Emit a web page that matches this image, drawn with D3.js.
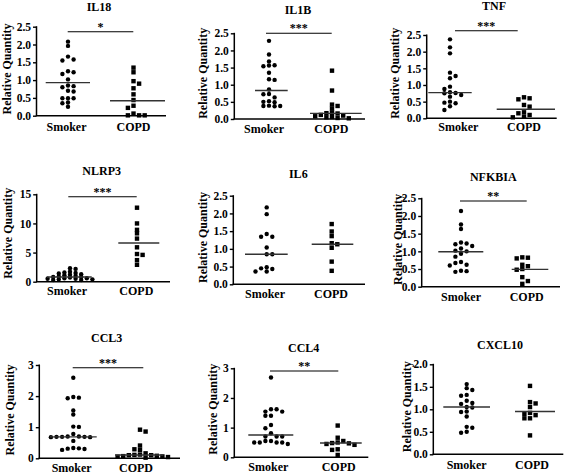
<!DOCTYPE html>
<html><head><meta charset="utf-8">
<script src="https://cdn.jsdelivr.net/npm/d3@7"></script>
<style>
body{margin:0;background:#fff}
svg{display:block}
text{font-family:"Liberation Serif","DejaVu Serif","Times New Roman",serif;font-weight:bold;fill:#000}
</style>
</head><body>
<svg id="chart" width="567" height="475"></svg>
<script>
// ---------------- DATA ----------------
const categories = ["Smoker", "COPD"];
const genes = ["IL18", "IL1B", "TNF", "NLRP3", "IL6", "NFKBIA", "CCL3", "CCL4", "CXCL10"];
const significance = ["*", "***", "***", "***", "", "**", "***", "**", ""];
const yAxisTitle = "Relative Quantity";
const yMaxima = [2.5, 2.5, 2.5, 15, 2.5, 2.5, 3, 3, 2.0];
const yTickValues = [
  [0, 0.5, 1.0, 1.5, 2.0, 2.5],
  [0, 0.5, 1.0, 1.5, 2.0, 2.5],
  [0, 0.5, 1.0, 1.5, 2.0, 2.5],
  [0, 5, 10, 15],
  [0, 0.5, 1.0, 1.5, 2.0, 2.5],
  [0, 0.5, 1.0, 1.5, 2.0, 2.5],
  [0, 1, 2, 3],
  [0, 1, 2, 3],
  [0, 0.5, 1.0, 1.5, 2.0]
];
const yTickFormats = [".1f", ".1f", ".1f", "d", ".1f", ".1f", "d", "d", ".1f"];

const il18Smoker = [2.08,1.96,1.66,1.58,1.55,1.25,1.22,1.17,1.02,0.85,0.83,0.80,0.70,0.68,0.49,0.49,0.49,0.37,0.35,0.25];
const il18COPD   = [1.35,1.22,0.97,0.90,0.77,0.60,0.44,0.28,0.22,0.06,0.01,0.01,0.01];
const il1bSmoker = [2.28,1.88,1.68,1.57,1.56,1.54,1.35,1.16,1.14,0.86,0.73,0.72,0.63,0.52,0.50,0.49,0.39,0.38,0.38,0.37];
const il1bCOPD   = [1.41,0.83,0.42,0.38,0.30,0.18,0.17,0.16,0.12,0.10,0.08,0.06,0.05,0.03,0.02];
const tnfSmoker  = [2.37,2.13,1.95,1.37,1.27,1.20,0.95,0.88,0.78,0.76,0.75,0.70,0.65,0.50,0.47,0.45,0.36,0.25];
const tnfCOPD    = [0.63,0.60,0.57,0.40,0.35,0.18,0.15,0.10,0.05,0.03];
const nlrp3Smoker = [2.3,2.2,1.7,1.6,1.5,1.4,1.3,1.2,1.1,1.0,0.9,0.8,0.8,0.7,0.6,0.6,0.5,0.5,0.4,0.4,0.3,0.3];
const nlrp3COPD   = [12.7,10.0,8.9,8.3,7.4,5.9,4.75,4.6,3.7,2.9];
const il6Smoker  = [2.17,1.98,1.42,1.34,1.34,1.04,0.85,0.85,0.48,0.45,0.43,0.36,0.36];
const il6COPD    = [1.70,1.49,1.36,1.16,1.13,1.03,0.64,0.38];
const nfkbiaSmoker = [2.14,1.76,1.63,1.25,1.22,1.20,1.15,1.08,1.02,1.00,0.93,0.85,0.70,0.67,0.62,0.60,0.45,0.44,0.42];
const nfkbiaCOPD   = [0.83,0.82,0.80,0.62,0.58,0.50,0.48,0.27,0.16,0.08];
const ccl3Smoker = [2.59,1.97,1.95,1.93,1.54,1.41,1.02,1.01,0.78,0.70,0.70,0.69,0.69,0.69,0.68,0.68,0.56,0.33,0.32,0.31,0.30,0.27];
const ccl3COPD   = [0.92,0.86,0.41,0.29,0.27,0.16,0.12,0.11,0.10,0.10,0.08,0.07,0.06,0.05,0.04,0.02];
const ccl4Smoker = [2.69,1.62,1.62,1.54,1.54,1.40,1.40,1.09,0.98,0.81,0.70,0.70,0.70,0.55,0.55,0.50,0.50,0.50,0.50,0.45];
const ccl4COPD   = [1.07,0.66,0.55,0.50,0.48,0.47,0.45,0.42,0.27,0.25,0.08];
const cxcl10Smoker = [1.56,1.47,1.43,1.32,1.30,1.19,1.14,1.12,1.05,1.04,0.95,0.94,0.84,0.61,0.59,0.50,0.48];
const cxcl10COPD   = [1.52,1.16,1.13,1.05,0.92,0.90,0.87,0.80,0.80,0.42];

const smokerValues = [il18Smoker, il1bSmoker, tnfSmoker, nlrp3Smoker, il6Smoker, nfkbiaSmoker, ccl3Smoker, ccl4Smoker, cxcl10Smoker];
const copdValues   = [il18COPD, il1bCOPD, tnfCOPD, nlrp3COPD, il6COPD, nfkbiaCOPD, ccl3COPD, ccl4COPD, cxcl10COPD];
const smokerMedians = [0.93, 0.83, 0.77, 0.8, 0.85, 0.99, 0.69, 0.75, 1.05];
const copdMedians   = [0.42, 0.165, 0.27, 6.64, 1.13, 0.49, 0.105, 0.48, 0.95];

// ---------------- LAYOUT ----------------
const layout = [
  {ax:36.5, top:26.7, bottom:115.7, right:166, pts:[68,133.5], med:[[45.7,90],[110,165]], lbl:[66.5,133.5], lblY:131, title:[99,11], sig:[67.7,133.3,31.7], yt:[7,69]},
  {ax:234.3, top:33.3, bottom:119, right:365, pts:[269,332], med:[[255,287.7],[310,361.7]], lbl:[264,331.3], lblY:133, title:[298,14], sig:[266,331.7,33.3], yt:[203.3,73.3]},
  {ax:426.7, top:35, bottom:118.3, right:556.7, pts:[450,524], med:[[428.3,471.7],[496.7,555]], lbl:[458.3,524], lblY:131, title:[494,9.5], sig:[455,517.7,30.7], yt:[395,73.3]},
  {ax:36.7, top:194.3, bottom:281.7, right:170, pts:[70,137], med:[[46.7,91.7],[118.3,159.3]], lbl:[67,136.3], lblY:295, title:[101.7,175], sig:[68.3,136.7,196.7], yt:[8.3,233.3], minDy:2.6},
  {ax:233.3, top:195.7, bottom:284.3, right:365, pts:[266.7,331.7], med:[[245,287.7],[311.7,353.3]], lbl:[265,331], lblY:297.7, title:[298.3,178], sig:null, yt:[203.3,237.5]},
  {ax:421.7, top:198.3, bottom:286.7, right:560, pts:[461,522.3], med:[[438.3,483.3],[511.7,548.3]], lbl:[461,526.7], lblY:301, title:[493.3,181], sig:[460,526.7,201], yt:[398.3,239.5]},
  {ax:39.3, top:365, bottom:458.3, right:180, pts:[73.3,140], med:[[50,96.7],[115,163.3]], lbl:[71.7,136], lblY:471.7, title:[106.7,342], sig:[72.7,143.3,367.7], yt:[10,410]},
  {ax:234.3, top:368.3, bottom:457.3, right:368.3, pts:[271,337.7], med:[[248.3,293.3],[320,361.7]], lbl:[268.3,338.7], lblY:471, title:[303.7,352], sig:[270,338.3,371], yt:[213.3,409.2]},
  {ax:433.3, top:364.3, bottom:454.3, right:563.3, pts:[466.7,530], med:[[443.3,490],[515,555]], lbl:[466.7,532], lblY:469, title:[500,349], sig:null, yt:[406.7,406.7]}
];

const FONT = '"Liberation Serif","DejaVu Serif","Times New Roman",serif';
const svg = d3.select("#chart");
const SPACING = 5.6, MIN_DY = 4.0, R = 2.2, SQ = 4.4;

// Prism-like column packing: each point goes to the nearest free column
function swarm(values, y, minDy) {
  const items = values.map(v => ({v, py: y(v)})).sort((a, b) => a.py - b.py);
  const placed = [];
  items.forEach(it => {
    const bias = d3.sum(placed, p => p.off);
    for (let k = 0; k < 40; k++) {
      const cands = k === 0 ? [0] : (bias > 0 ? [-k, k] : [k, -k]);
      const free = cands.find(c => !placed.some(p => p.col === c && Math.abs(p.py - it.py) < minDy));
      if (free !== undefined) { it.col = free; it.off = free * SPACING; placed.push(it); break; }
    }
  });
  return items;
}

genes.forEach((gene, i) => {
  const L = layout[i];
  const minDy = L.minDy || MIN_DY;
  const g = svg.append("g");
  const y = d3.scaleLinear().domain([0, yMaxima[i]]).range([L.bottom, L.top]);
  const x = d3.scaleOrdinal().domain(categories).range(L.pts);

  // y axis
  const yAxis = d3.axisLeft(y).tickValues(yTickValues[i]).tickSize(3.5).tickSizeOuter(0)
    .tickPadding(2).tickFormat(d3.format(yTickFormats[i]));
  const ya = g.append("g").attr("transform", `translate(${L.ax},0)`).call(yAxis)
    .attr("font-family", FONT).attr("font-size", null);
  ya.select(".domain").attr("stroke", "#000").attr("stroke-width", 1.5)
    .attr("d", `M0,${L.top - 0.5}V${L.bottom}`);
  ya.selectAll(".tick line").attr("stroke", "#000").attr("stroke-width", 1.4);
  ya.selectAll(".tick text").style("font-family", FONT)
    .style("font-weight", "bold").style("font-size", "11.5px").attr("fill", "#000");

  // x axis line
  g.append("line").attr("x1", L.ax - 0.75).attr("x2", L.right).attr("y1", y(0)).attr("y2", y(0))
    .attr("stroke", "#000").attr("stroke-width", 1.5);

  // category labels
  g.selectAll("text.cat").data(categories).enter().append("text")
    .attr("class", "cat").attr("x", (d, k) => L.lbl[k]).attr("y", L.lblY)
    .attr("text-anchor", "middle").style("font-size", "12px").attr("fill", "#000").text(d => d);

  // title
  g.append("text").attr("x", L.title[0]).attr("y", L.title[1]).attr("text-anchor", "middle")
    .style("font-size", "12px").attr("fill", "#000").text(gene);

  // y title
  g.append("text").attr("transform", `translate(${L.yt[0] + 4},${L.yt[1]}) rotate(-90)`)
    .attr("text-anchor", "middle").style("font-size", "12px").attr("fill", "#000").text(yAxisTitle);

  // points: smoker circles
  const sPts = swarm(smokerValues[i], y, minDy);
  g.selectAll("circle").data(sPts).enter().append("circle")
    .attr("cx", d => x("Smoker") + d.off).attr("cy", d => d.py).attr("r", R).attr("fill", "#000");
  // COPD squares
  const cPts = swarm(copdValues[i], y, minDy);
  g.selectAll("rect.sq").data(cPts).enter().append("rect").attr("class", "sq")
    .attr("x", d => x("COPD") + d.off - SQ / 2).attr("y", d => d.py - SQ / 2)
    .attr("width", SQ).attr("height", SQ).attr("fill", "#000");

  // median lines
  const meds = [smokerMedians[i], copdMedians[i]];
  g.selectAll("line.med").data(meds).enter().append("line").attr("class", "med")
    .attr("x1", (d, k) => L.med[k][0]).attr("x2", (d, k) => L.med[k][1])
    .attr("y1", d => y(d)).attr("y2", d => y(d))
    .attr("stroke", "#333").attr("stroke-width", 1.4);

  // significance
  if (L.sig && significance[i]) {
    g.append("line").attr("x1", L.sig[0]).attr("x2", L.sig[1]).attr("y1", L.sig[2]).attr("y2", L.sig[2])
      .attr("stroke", "#000").attr("stroke-width", 1.1);
    g.append("text").attr("x", (L.sig[0] + L.sig[1]) / 2).attr("y", L.sig[2] - 1)
      .attr("text-anchor", "middle").style("font-size", "12px").attr("fill", "#000").text(significance[i]);
  }
});
</script>
</body></html>
